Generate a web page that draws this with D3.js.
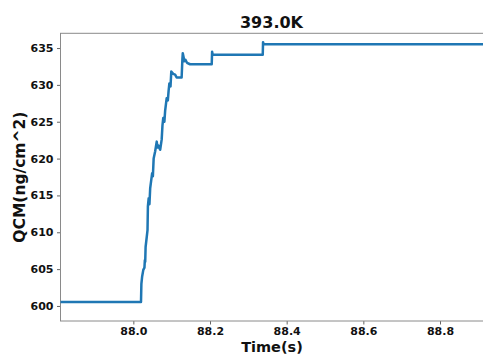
<!DOCTYPE html>
<html>
<head>
<meta charset="utf-8">
<script src="https://cdn.jsdelivr.net/npm/d3@7"></script>
<style>
  body { margin: 0; background: #fff; }
  svg { display: block; font-family: "DejaVu Sans", sans-serif; }
</style>
</head>
<body>
<div id="chart"></div>
<script>
// time (s) and QCM mass (ng/cm^2)
const timeS = [
  87.81, 88.020, 88.021, 88.023, 88.026, 88.029, 88.030, 88.031, 88.032, 88.037,
  88.038, 88.040, 88.042, 88.044, 88.049, 88.051, 88.053, 88.057, 88.061, 88.063,
  88.065, 88.070, 88.074, 88.076, 88.078, 88.081, 88.083, 88.087, 88.090, 88.092,
  88.094, 88.097, 88.099, 88.104, 88.109, 88.113, 88.126, 88.128, 88.129, 88.131,
  88.133, 88.136, 88.140, 88.148, 88.2045, 88.2055, 88.207, 88.3376, 88.3384, 88.3397,
  88.93
];
const qcmValues = [
  600.55, 600.55, 603.0, 604.0, 604.9, 605.2, 606.2, 606.0, 608.0, 610.3,
  613.5, 614.6, 613.8, 616.0, 618.0, 617.6, 620.0, 621.0, 622.3, 621.5,
  621.8, 621.2, 622.6, 624.5, 625.5, 625.0, 626.5, 628.2, 627.9, 629.2,
  630.2, 629.8, 631.8, 631.5, 631.4, 631.0, 631.0, 633.5, 634.3, 633.8,
  633.2, 633.4, 633.0, 632.8, 632.8, 634.5, 634.1, 634.1, 635.8, 635.5,
  635.5
];
const xTicks = [88.0, 88.2, 88.4, 88.6, 88.8];
const yTicks = [600, 605, 610, 615, 620, 625, 630, 635];
const titleText = "393.0K";

const width = 483, height = 354;
const margin = { left: 60.5, top: 33.3, right: -3, bottom: 33 };
const plotW = width - margin.left - margin.right;
const plotH = height - margin.top - margin.bottom;

const svg = d3.select("#chart")
  .append("svg")
  .attr("width", width)
  .attr("height", height);

const g = svg.append("g")
  .attr("transform", "translate(" + margin.left + "," + margin.top + ")");

const x = d3.scaleLinear()
  .domain([87.81, 88.92])
  .range([0, plotW]);

const y = d3.scaleLinear()
  .domain([597.96, 637.0])
  .range([plotH, 0]);

// X axis
const xAxis = g.append("g")
  .attr("transform", "translate(0," + plotH + ")")
  .call(d3.axisBottom(x).tickValues(xTicks).tickFormat(d3.format(".1f")).tickSize(3.5).tickPadding(2.5));

// Y axis
const yAxis = g.append("g")
  .call(d3.axisLeft(y).tickValues(yTicks).tickFormat(d3.format("d")).tickSize(3.5).tickPadding(3.5));

[xAxis, yAxis].forEach(a => {
  a.select(".domain").remove();
  a.selectAll(".tick line").attr("stroke", "#555").attr("stroke-width", 0.9);
  a.selectAll(".tick text")
    .attr("fill", "#111")
    .style("font-size", "11px")
    .style("font-weight", "bold")
    .style("font-family", "DejaVu Sans, sans-serif");
});

// frame
g.append("rect")
  .attr("x", 0)
  .attr("y", 0)
  .attr("width", plotW)
  .attr("height", plotH)
  .attr("fill", "none")
  .attr("stroke", "#8a8a8a")
  .attr("stroke-width", 1);

// line
const line = d3.line()
  .x((d, i) => x(timeS[i]))
  .y(d => y(d));

g.append("path")
  .datum(qcmValues)
  .attr("fill", "none")
  .attr("stroke", "#1f77b4")
  .attr("stroke-width", 2.5)
  .attr("stroke-linejoin", "round")
  .attr("d", line);

// title
svg.append("text")
  .attr("x", 271.5)
  .attr("y", 28)
  .style("text-anchor", "middle")
  .style("font-size", "16px")
  .style("font-weight", "bold")
  .attr("fill", "#111")
  .text(titleText);

// axis labels
svg.append("text")
  .attr("x", 272)
  .attr("y", 351.5)
  .style("text-anchor", "middle")
  .style("font-size", "14.5px")
  .style("font-weight", "bold")
  .attr("fill", "#111")
  .text("Time(s)");

svg.append("text")
  .attr("transform", "translate(25," + (margin.top + plotH / 2) + ") rotate(-90)")
  .style("text-anchor", "middle")
  .style("font-size", "15.5px")
  .style("font-weight", "bold")
  .attr("fill", "#111")
  .text("QCM(ng/cm^2)");
</script>
</body>
</html>
